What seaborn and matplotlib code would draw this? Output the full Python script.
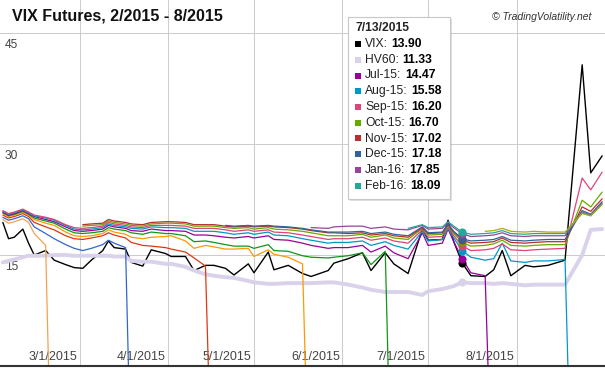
import numpy as np
import pandas as pd
import matplotlib
matplotlib.use("Agg")
import matplotlib.pyplot as plt
import seaborn as sns
from matplotlib.transforms import ScaledTranslation
from matplotlib.patches import Rectangle
from matplotlib.text import Annotation

# shared trading-day grid
GRID = ['2015-02-02', '2015-02-04', '2015-02-06', '2015-02-09', '2015-02-11',
        '2015-02-13', '2015-02-17', '2015-02-20', '2015-02-24', '2015-02-27',
        '2015-03-02', '2015-03-05', '2015-03-09', '2015-03-11', '2015-03-13',
        '2015-03-17', '2015-03-19', '2015-03-23', '2015-03-26', '2015-03-31',
        '2015-04-02', '2015-04-07', '2015-04-10', '2015-04-14', '2015-04-17',
        '2015-04-21', '2015-04-24', '2015-04-29', '2015-05-01', '2015-05-06',
        '2015-05-08', '2015-05-13', '2015-05-18', '2015-05-21', '2015-05-27',
        '2015-05-29', '2015-06-03', '2015-06-08', '2015-06-11', '2015-06-16',
        '2015-06-19', '2015-06-24', '2015-06-29', '2015-07-01', '2015-07-06',
        '2015-07-08', '2015-07-10', '2015-07-13', '2015-07-16', '2015-07-21',
        '2015-07-24', '2015-07-27', '2015-07-30', '2015-08-04', '2015-08-07',
        '2015-08-12', '2015-08-18', '2015-08-24', '2015-08-27', '2015-08-31']

VIX = [19.4, 17.2, 17.4, 18.5, 16.6, 15.0, 15.6, 14.3, 13.7, 13.3,
       13.2, 14.3, 15.6, 16.9, 16.0, 15.8, 14.0, 13.5, 15.7, 15.2,
       14.8, 14.8, 12.9, 13.6, 13.6, 13.2, 12.3, 13.8, 12.6, 15.4,
       13.0, 13.6, 12.5, 12.1, 12.9, 13.9, 14.5, 15.3, 12.9, 15.3,
       13.8, 12.5, 18.5, 17.0, 17.1, 19.7, 16.8, 13.90, 12.2, 12.1,
       13.0, 15.6, 12.2, 13.6, 13.4, 13.6, 14.3, 40.7, 26.1, 28.4]

HV60 = [14.0, 14.2, 14.4, 14.7, 14.9, 14.9, 14.9, 15.0, 15.0, 14.9,
        14.9, 14.9, 14.9, 14.9, 14.8, 14.8, 14.2, 14.1, 14.1, 13.8,
        13.8, 13.4, 12.9, 12.4, 12.2, 12.0, 11.9, 11.5, 11.3, 11.1,
        11.1, 11.2, 11.2, 11.2, 11.3, 11.3, 11.0, 10.6, 10.3, 10.0,
        10.0, 10.0, 9.6, 10.1, 10.4, 10.6, 10.8, 11.33, 11.2, 11.2,
        11.1, 11.2, 11.1, 10.9, 11.0, 11.0, 11.0, 15.0, 18.4, 18.5]

# expired contracts start at the first grid date
FEB15 = [19.8, 19.3, 19.5, 19.9, 19.4, 17.9, 16.3]
MAR15 = [20.1, 19.7, 19.9, 20.3, 19.9, 18.8, 17.9, 17.2, 16.4, 15.9,
         15.6, 15.9, 16.4, 17.0, 16.6, 16.0]
APR15 = [20.4, 20.0, 20.2, 20.6, 20.2, 19.4, 18.8, 18.4, 17.6, 17.2,
         17.1, 17.3, 17.6, 18.0, 17.7, 17.3, 16.7, 16.3, 16.2, 16.0,
         15.8, 15.4, 14.6, 13.5]
MAY15 = [20.6, 20.2, 20.4, 20.8, 20.4, 19.8, 19.3, 19.0, 18.1, 17.6,
         17.5, 17.6, 17.9, 18.4, 18.1, 17.8, 17.4, 17.2, 17.4, 17.5,
         17.6, 16.9, 15.9, 16.3, 16.1, 15.8, 15.8, 15.9, 14.8, 15.7,
         15.1, 14.7, 13.8]
JUN15 = [20.7, 20.3, 20.5, 20.9, 20.5, 20.0, 19.6, 19.3, 18.5, 18.0,
         17.9, 18.0, 18.2, 18.7, 18.5, 18.3, 18.0, 17.8, 18.1, 17.9,
         17.9, 17.6, 16.8, 16.9, 16.7, 16.4, 16.2, 16.2, 15.9, 16.4,
         15.6, 15.5, 14.9, 14.7, 14.6, 14.7, 14.9, 15.3, 13.7, 15.5]
JUL15 = [20.8, 20.4, 20.6, 21.0, 20.6, 20.2, 19.8, 19.5, 18.8, 18.3,
         18.2, 18.3, 18.5, 19.0, 18.8, 18.6, 18.3, 18.2, 18.5, 18.3,
         18.3, 18.2, 17.7, 17.7, 17.6, 17.4, 17.3, 17.5, 17.3, 17.6,
         17.1, 17.0, 16.6, 16.3, 15.9, 16.0, 16.0, 16.3, 15.4, 16.2,
         15.3, 14.5, 18.0, 16.3, 16.6, 18.5, 16.8, 14.47, 12.6, 12.2]
AUG15 = [20.9, 20.5, 20.7, 21.1, 20.7, 20.3, 20.0, 19.7, 19.0, 18.5,
         18.4, 18.5, 18.7, 19.2, 19.0, 18.8, 18.6, 18.5, 18.8, 18.7,
         18.7, 18.6, 18.2, 18.2, 18.2, 18.0, 17.8, 18.0, 17.8, 18.1,
         17.7, 17.6, 17.2, 17.0, 16.6, 16.7, 16.7, 16.9, 16.3, 16.8,
         16.3, 15.8, 18.2, 16.9, 17.1, 18.6, 17.3, 15.58, 14.7, 14.3,
         14.5, 16.6, 14.2, 14.0, 14.2, 14.2, 14.4]
# live contracts end at the last grid date
SEP15 = [21.0, 20.6, 20.8, 21.2, 20.8, 20.4, 20.1, 19.8, 19.1, 18.7,
         18.6, 18.7, 18.9, 19.4, 19.2, 19.0, 18.8, 18.7, 19.0, 19.0,
         19.0, 18.9, 18.6, 18.6, 18.6, 18.4, 18.2, 18.4, 18.2, 18.4,
         18.1, 18.0, 17.7, 17.5, 17.1, 17.2, 17.2, 17.4, 17.0, 17.3,
         16.9, 16.6, 18.4, 17.4, 17.5, 18.8, 17.6, 16.20, 15.6, 15.7,
         15.9, 16.5, 15.7, 15.6, 15.7, 15.8, 15.9, 25.4, 23.8, 26.2]
OCT15 = [18.9, 19.0, 19.1, 19.6, 19.4, 19.2, 19.0, 18.9, 19.2, 19.3,
         19.3, 19.2, 18.9, 18.9, 18.9, 18.7, 18.6, 18.7, 18.5, 18.7,
         18.5, 18.4, 18.2, 18.0, 17.6, 17.6, 17.6, 17.8, 17.4, 17.7,
         17.3, 17.1, 18.6, 17.7, 17.8, 19.0, 17.9, 16.70, 16.2, 16.3,
         16.5, 17.0, 16.3, 16.2, 16.3, 16.4, 16.4, 22.4, 21.5, 23.5]
NOV15 = [19.1, 19.2, 19.3, 19.8, 19.6, 19.4, 19.2, 19.1, 19.4, 19.5,
         19.5, 19.4, 19.1, 19.1, 19.1, 18.9, 18.8, 18.9, 18.8, 18.9,
         18.8, 18.7, 18.5, 18.3, 18.0, 18.0, 17.9, 18.0, 17.7, 17.9,
         17.6, 17.4, 18.7, 17.9, 18.0, 19.1, 18.1, 17.02, 16.6, 16.7,
         16.8, 17.3, 16.7, 16.6, 16.7, 16.8, 16.8, 21.5, 20.9, 22.6]
DEC15 = [19.0, 18.9, 19.0, 18.9, 19.0, 18.9, 18.8, 18.6, 18.4, 18.1,
         18.1, 18.1, 18.2, 17.9, 18.1, 17.8, 17.6, 18.8, 18.0, 18.1,
         19.2, 18.2, 17.18, 16.9, 17.0, 17.1, 17.5, 17.0, 16.9, 17.0,
         17.1, 17.1, 21.0, 20.5, 22.2]
JAN16 = [18.7, 18.6, 18.8, 18.9, 18.9, 18.6, 18.8, 18.5, 18.4, 19.0,
         18.5, 18.6, 19.4, 18.7, 17.85, 17.5, 17.6, 17.7, 18.0, 17.6,
         17.5, 17.6, 17.6, 17.6, 20.8, 20.4, 22.0]
FEB16 = [18.6, 19.1, 18.7, 18.8, 19.5, 18.9, 18.09, 17.8, 17.9, 18.0,
         18.3, 17.9, 17.8, 17.9, 17.9, 17.9, 20.7, 20.3, 21.9]
MAR16 = [18.2, 18.3, 18.6, 18.2, 18.1, 18.2, 18.1, 18.1, 20.6, 20.3, 21.8]

FUT_NAMES = ['Feb-15', 'Mar-15', 'Apr-15', 'May-15', 'Jun-15', 'Jul-15', 'Aug-15',
             'Sep-15', 'Oct-15', 'Nov-15', 'Dec-15', 'Jan-16', 'Feb-16', 'Mar-16']
FUT_VALUES = [FEB15, MAR15, APR15, MAY15, JUN15, JUL15, AUG15,
              SEP15, OCT15, NOV15, DEC15, JAN16, FEB16, MAR16]
# settlement: the contract line falls to zero on these dates
ZERO_DATES = {'Feb-15': ['2015-02-18'], 'Mar-15': ['2015-03-18', '2015-05-08'],
              'Apr-15': ['2015-04-15'], 'May-15': ['2015-05-19'],
              'Jun-15': ['2015-06-17'], 'Jul-15': ['2015-07-22'],
              'Aug-15': ['2015-08-19']}
FUT_COLORS = ['#f4a24f', '#3366cc', '#dc3912', '#ff9900', '#109618', '#990099', '#0099c6',
              '#dd4477', '#66aa00', '#b82e2e', '#316395', '#994499', '#22aa99', '#aaaa11']
VIX_COLOR = '#000000'
HV_COLOR = '#d9d2ea'

TIP_DATE = '2015-07-13'
TIP_NAMES = ['VIX', 'HV60', 'Jul-15', 'Aug-15', 'Sep-15', 'Oct-15',
             'Nov-15', 'Dec-15', 'Jan-16', 'Feb-16']
MONTH_TICKS = ['2015-03-01', '2015-04-01', '2015-05-01', '2015-06-01', '2015-07-01', '2015-08-01']
XLABELS = ['3/1/2015', '4/1/2015', '5/1/2015', '6/1/2015', '7/1/2015', '8/1/2015']
YTICKS = [15, 30, 45]

# long table
rows = []
for name, vals in zip(FUT_NAMES, FUT_VALUES):
    if name in ZERO_DATES:
        dates = GRID[:len(vals)]
    else:
        dates = GRID[len(GRID) - len(vals):]
    rows += [(d, v, name) for d, v in zip(dates, vals)]
    rows += [(d, 0.0, name) for d in ZERO_DATES.get(name, [])]
fut = pd.DataFrame(rows, columns=['date', 'value', 'series'])
fut['date'] = pd.to_datetime(fut['date'])
base = pd.DataFrame({'date': pd.to_datetime(GRID), 'VIX': VIX, 'HV60': HV60})

sns.set_style('white')
plt.rcParams['font.family'] = ['Liberation Sans', 'DejaVu Sans']

W, H = 605, 369
fig = plt.figure(figsize=(W / 100, H / 100), dpi=100)
ax = fig.add_axes([0, 3 / H, 1, 366 / H])

sns.lineplot(data=base, x='date', y='VIX', color=VIX_COLOR, lw=1.0, ax=ax)
sns.lineplot(data=base, x='date', y='HV60', color=HV_COLOR, lw=2.8, ax=ax)
sns.lineplot(data=fut, x='date', y='value', hue='series', hue_order=FUT_NAMES,
             palette=dict(zip(FUT_NAMES, FUT_COLORS)), estimator=None,
             legend=False, lw=0.9, ax=ax)

# hover dots at the tooltip date
color_of = dict(zip(FUT_NAMES, FUT_COLORS), VIX=VIX_COLOR, HV60=HV_COLOR)
tip_idx = GRID.index(TIP_DATE)
value_of = {'VIX': VIX[tip_idx], 'HV60': HV60[tip_idx]}
for name, vals in zip(FUT_NAMES, FUT_VALUES):
    if name in TIP_NAMES:
        off = 0 if name in ZERO_DATES else len(GRID) - len(vals)
        value_of[name] = vals[tip_idx - off]
for name in TIP_NAMES:
    ax.scatter([pd.Timestamp(TIP_DATE)], [value_of[name]], s=34,
               color=color_of[name], zorder=5, linewidths=0)

ax.set_xlim(pd.Timestamp('2015-02-01'), pd.Timestamp('2015-09-01'))
ax.set_ylim(0, 366 / 7.4)
ax.set_xticks(pd.to_datetime(MONTH_TICKS))
ax.set_xticklabels(XLABELS)
ax.set_yticks(YTICKS)
ax.set_yticklabels([str(v) for v in YTICKS])
ax.grid(True, color='#cccccc', lw=0.75)
ax.set_axisbelow(True)
ax.set_xlabel('')
ax.set_ylabel('')
for s in ['top', 'right', 'left']:
    ax.spines[s].set_visible(False)
ax.spines['bottom'].set_color('#333333')
ax.spines['bottom'].set_linewidth(1.5)
ax.tick_params(length=0, pad=0, labelcolor='#444444', labelsize=9)
for lab in ax.get_xticklabels():
    lab.set_transform(lab.get_transform() + ScaledTranslation(-0.27, 0.15, fig.dpi_scale_trans))
for lab in ax.get_yticklabels():
    lab.set_ha('left')
    lab.set_fontsize(8.6)
    lab.set_transform(lab.get_transform() + ScaledTranslation(0.05, -0.10, fig.dpi_scale_trans))

fig.text(12 / W, 1 - 16 / H, 'VIX Futures, 2/2015 - 8/2015', fontsize=11.5,
         fontweight='bold', va='center', ha='left', color='#111111')
fig.text(492 / W, 1 - 17 / H, '\u00a9 TradingVolatility.net', fontsize=7.5,
         style='italic', va='center', ha='left', color='#333333')

# tooltip box
bx0, by0, bx1, by1 = 348, 17, 450, 199
fig.add_artist(Rectangle(((bx0 + 2) / W, 1 - (by1 + 2) / H), (bx1 - bx0) / W, (by1 - by0) / H,
                         transform=fig.transFigure, facecolor='#000000', alpha=0.12, lw=0, zorder=10))
fig.add_artist(Rectangle((bx0 / W, 1 - by1 / H), (bx1 - bx0) / W, (by1 - by0) / H,
                         transform=fig.transFigure, facecolor='white', edgecolor='#c8c8c8',
                         lw=0.8, zorder=11))
d = pd.Timestamp(TIP_DATE)
fig.text(355 / W, 1 - 28 / H, f'{d.month}/{d.day}/{d.year}', fontsize=8.7,
         fontweight='bold', va='center', ha='left', zorder=12)
for i, name in enumerate(TIP_NAMES):
    yc = 44 + 15.75 * i
    fig.add_artist(Rectangle((355 / W, 1 - (yc + 3) / H), 6 / W, 6 / H,
                             transform=fig.transFigure, facecolor=color_of[name],
                             lw=0, zorder=12))
    lab = fig.text(365 / W, 1 - yc / H, f'{name}:', fontsize=8.7, color='#222222',
                   va='center', ha='left', zorder=12)
    val = Annotation(f'{value_of[name]:.2f}', xy=(1, 0.5), xycoords=lab, xytext=(2.6, 0),
                     textcoords='offset points', fontsize=8.7, fontweight='bold',
                     va='center', ha='left', color='#000000', annotation_clip=False)
    val.set_zorder(12)
    fig.add_artist(val)

fig.savefig('out.png', dpi=100)
